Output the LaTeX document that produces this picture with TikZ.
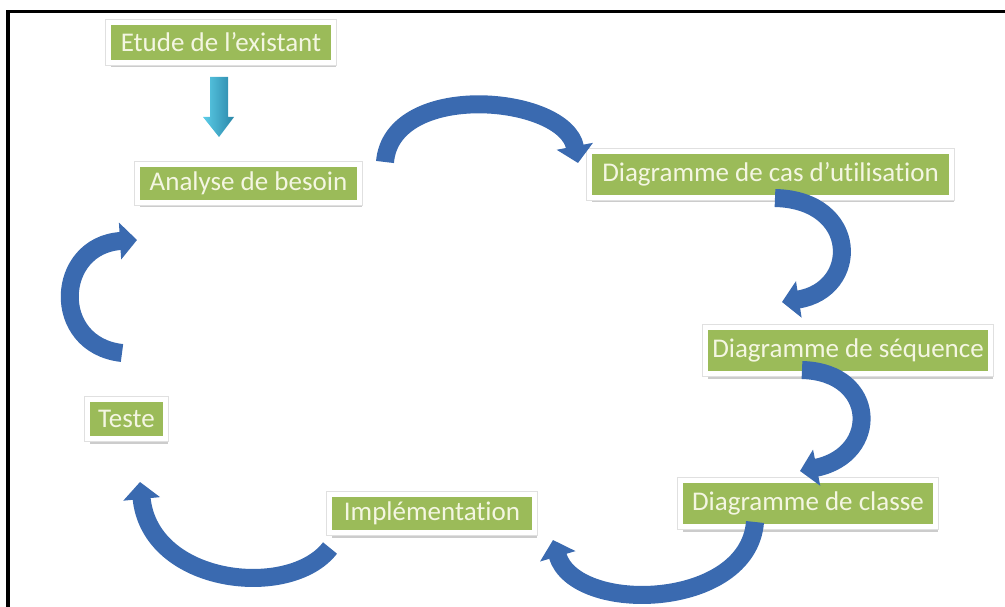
\documentclass[tikz,border=0pt]{standalone}
\usepackage{fontspec}
\setmainfont{Carlito}[Ligatures=NoCommon]
\usetikzlibrary{arrows.meta, shadows}

\definecolor{boxgreen}{HTML}{9BBB59}
\definecolor{boxtext}{HTML}{F4F6E2}
\definecolor{loopblue}{HTML}{3A6AB0}
\definecolor{lightcyan}{HTML}{5CCDE8}
\definecolor{darkteal}{HTML}{2A86A8}

\begin{document}
\begin{tikzpicture}[x=1pt, y=-1pt,
    etape/.style={fill=boxgreen, draw=white, line width=5pt, text=boxtext,
      font=\fontsize{27}{32}\selectfont, inner sep=0pt,
      drop shadow={shadow xshift=2pt, shadow yshift=-5pt, opacity=0.2, fill=black},
      preaction={draw=black!12, line width=6.5pt}},
    boucle/.style={draw=loopblue, line width=18pt, -{Triangle[width=36pt, length=17pt]}}]
      \useasboundingbox (0,0) rectangle (1005,607);

      % cadre
      \draw[line width=3.5pt] (8,607) -- (8,11.5) -- (1005,11.5);

      % etapes
      \node[etape, minimum width=225pt, minimum height=40pt] (etude) at (221,42.5) {Etude de l’existant};
      \node[etape, minimum width=222pt, minimum height=38pt] (analyse) at (248.5,183.5) {Analyse de besoin};
      \node[etape, minimum width=362pt, minimum height=46pt] (cas) at (770.5,174.5) {Diagramme de cas d’utilisation};
      \node[etape, minimum width=285pt, minimum height=46pt] (sequence) at (848,350.5) {Diagramme de séquence};
      \node[etape, minimum width=255pt, minimum height=46pt] (classe) at (808,503.5) {Diagramme de classe};
      \node[etape, minimum width=205pt, minimum height=38pt] (impl) at (432,513.5) {Implémentation};
      \node[etape, minimum width=78pt, minimum height=39pt] (teste) at (126.5,419) {Teste};

      % fleche du haut
      \shade[left color=lightcyan, right color=darkteal]
        (210,77) -- (228,77) -- (228,117) -- (234,117) -- (219,137) -- (203,117) -- (210,117) -- cycle;

      % boucle
      \coordinate (b1s) at (385,162);  \coordinate (b1e) at (578,163);
      \coordinate (b2s) at (775,198);  \coordinate (b2e) at (782,302);
      \coordinate (b3s) at (802,370);  \coordinate (b3e) at (800,471);
      \coordinate (b4s) at (755,522);  \coordinate (b4e) at (553,540);
      \coordinate (b5s) at (330,548);  \coordinate (b5e) at (140,482);
      \coordinate (b6s) at (122,353);  \coordinate (b6e) at (137,240);

      \draw[boucle] (b1s) .. controls (392,80) and (565,95) .. (b1e);
      \draw[boucle] (b2s) .. controls (860,200) and (860,290) .. (b2e);
      \draw[boucle] (b3s) .. controls (878,372) and (880,455) .. (b3e);
      \draw[boucle] (b4s) .. controls (748,610) and (575,615) .. (b4e);
      \draw[boucle] (b5s) .. controls (290,600) and (150,585) .. (b5e);
      \draw[boucle] (b6s) .. controls (50,345) and (55,245) .. (b6e);
    \end{tikzpicture}
\end{document}
